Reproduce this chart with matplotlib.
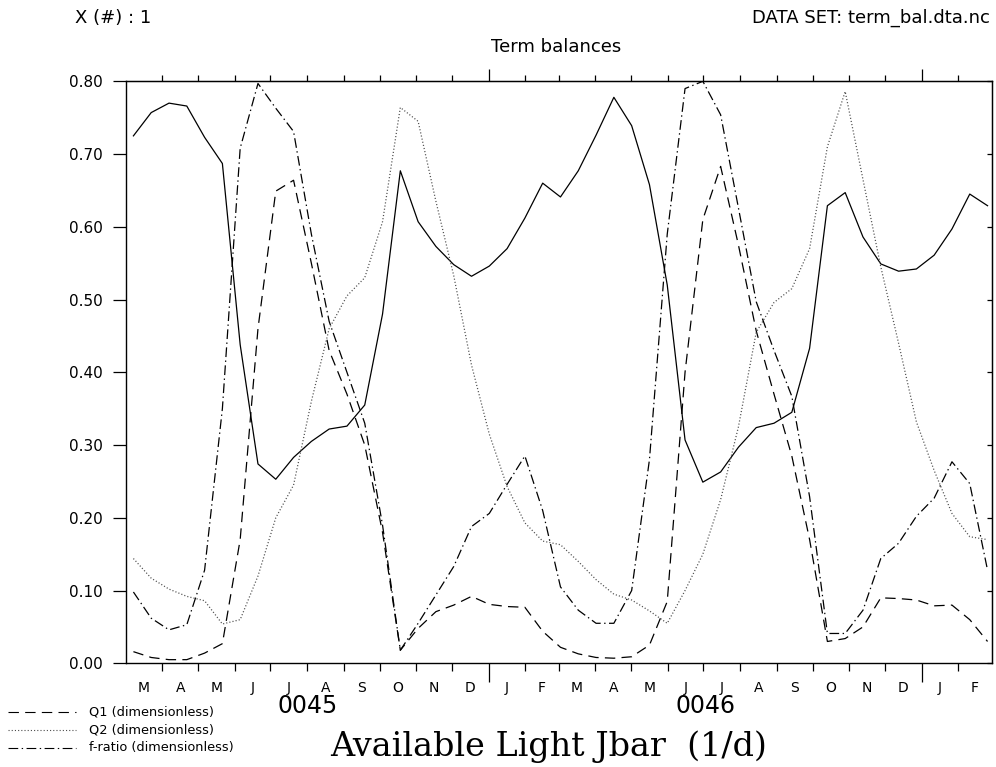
import numpy as np
import matplotlib
matplotlib.use("Agg")
import matplotlib.pyplot as plt
from matplotlib.lines import Line2D

plt.rcParams["lines.scale_dashes"] = False
plt.rcParams["font.family"] = ["DejaVu Sans"]

# ---- data: semi-monthly samples, days since 1 Mar 0045 ----
n_samples = 49
start_day = 6.5
step_days = 15.0
days = start_day + step_days * np.arange(n_samples)

jbar = [0.725, 0.757, 0.770, 0.766, 0.723, 0.687, 0.438, 0.274, 0.253, 0.283,
        0.305, 0.322, 0.326, 0.355, 0.480, 0.677, 0.607, 0.573, 0.548, 0.532,
        0.546, 0.570, 0.612, 0.660, 0.641, 0.677, 0.726, 0.778, 0.739, 0.658,
        0.520, 0.307, 0.249, 0.263, 0.297, 0.324, 0.330, 0.345, 0.433, 0.629,
        0.647, 0.586, 0.549, 0.539, 0.542, 0.561, 0.597, 0.645, 0.629]

q1 = [0.016, 0.008, 0.005, 0.005, 0.014, 0.027, 0.170, 0.460, 0.649, 0.664,
      0.550, 0.430, 0.370, 0.300, 0.180, 0.018, 0.048, 0.071, 0.080, 0.092,
      0.081, 0.078, 0.077, 0.044, 0.022, 0.013, 0.008, 0.007, 0.009, 0.025,
      0.085, 0.400, 0.610, 0.683, 0.575, 0.457, 0.370, 0.285, 0.170, 0.030,
      0.034, 0.050, 0.090, 0.089, 0.087, 0.079, 0.080, 0.060, 0.030]

q2 = [0.144, 0.117, 0.102, 0.092, 0.086, 0.054, 0.060, 0.120, 0.200, 0.245,
      0.360, 0.460, 0.505, 0.530, 0.607, 0.764, 0.745, 0.635, 0.533, 0.410,
      0.315, 0.243, 0.193, 0.168, 0.163, 0.140, 0.115, 0.095, 0.087, 0.072,
      0.055, 0.100, 0.150, 0.225, 0.325, 0.455, 0.496, 0.515, 0.570, 0.710,
      0.786, 0.665, 0.545, 0.440, 0.332, 0.265, 0.206, 0.174, 0.170]

fratio = [0.098, 0.062, 0.046, 0.053, 0.128, 0.350, 0.708, 0.797, 0.763, 0.731,
          0.590, 0.470, 0.400, 0.330, 0.190, 0.018, 0.055, 0.094, 0.133, 0.188,
          0.206, 0.246, 0.285, 0.210, 0.105, 0.073, 0.055, 0.055, 0.100, 0.280,
          0.590, 0.790, 0.800, 0.754, 0.626, 0.497, 0.430, 0.367, 0.229, 0.041,
          0.041, 0.073, 0.144, 0.165, 0.202, 0.227, 0.277, 0.247, 0.128]

# calendar: Mar 0045 .. Feb 0047 (365-day years)
month_letters = ["M", "A", "M", "J", "J", "A", "S", "O", "N", "D", "J", "F"] * 2
month_lengths = [31, 30, 31, 30, 31, 31, 30, 31, 30, 31, 31, 28] * 2
year_names = ["0045", "0046"]
ytick_vals = [0.0, 0.1, 0.2, 0.3, 0.4, 0.5, 0.6, 0.7, 0.8]

month_edges = np.concatenate([[0], np.cumsum(month_lengths)])
month_mids = 0.5 * (month_edges[:-1] + month_edges[1:])
jan_edges = month_edges[[10, 22]]           # 1 Jan 0046, 1 Jan 0047
other_edges = np.setdiff1d(month_edges[1:-1], jan_edges)

W, H = 996, 767
fig = plt.figure(figsize=(W / 100, H / 100), dpi=100)


def fx(px):
    return px / W


def fy(py):
    return 1 - py / H


left, right, top, bottom = 125.7, 991.7, 81.3, 663.3
ax = fig.add_axes([fx(left), fy(bottom), fx(right - left), (bottom - top) / H])

lw = 0.9
ax.plot(days, jbar, color="black", lw=lw, linestyle="-")
ax.plot(days, q1, color="black", lw=lw, linestyle=(0, (7.5, 4.5)))
ax.plot(days, q2, color="0.3", lw=lw, linestyle=(0, (0.8, 1.5)))
ax.plot(days, fratio, color="black", lw=lw, linestyle=(0, (7, 2.5, 1, 2.5)))

ax.set_xlim(month_edges[0], month_edges[-1])
ax.set_ylim(0, 0.8)

for sp in ax.spines.values():
    sp.set_linewidth(1.0)

# left axis: outward ticks with labels
ax.set_yticks(ytick_vals)
ax.set_yticklabels([f"{v:.2f}" for v in ytick_vals], fontsize=11)
ax.tick_params(axis="y", which="major", direction="out", length=9.4,
               width=0.9, pad=7, left=True, right=False)

# right axis: short inward ticks
sec_y = ax.secondary_yaxis("right")
sec_y.set_yticks(ytick_vals)
sec_y.tick_params(direction="in", length=3.6, width=0.9, labelright=False)

# bottom axis: month ticks outward, longer at year boundaries
ax.set_xticks(jan_edges)
ax.set_xticks(other_edges, minor=True)
ax.tick_params(axis="x", which="major", direction="out", length=14,
               width=0.9, labelbottom=False)
ax.tick_params(axis="x", which="minor", direction="out", length=5.5,
               width=0.9, labelbottom=False)

# top axis: same month ticks pointing up
sec_x = ax.secondary_xaxis("top")
sec_x.set_xticks(jan_edges)
sec_x.set_xticks(other_edges, minor=True)
sec_x.tick_params(which="major", direction="out", length=8.6, width=0.9,
                  labeltop=False)
sec_x.tick_params(which="minor", direction="out", length=4.3, width=0.9,
                  labeltop=False)

# month letters centred in each month
for xm, lab in zip(month_mids, month_letters):
    ax.annotate(lab, xy=(xm, 0), xycoords=("data", "axes fraction"),
                xytext=(0, -18), textcoords="offset points",
                ha="center", va="center", fontsize=10)

# year labels centred on the visible part of each year
year_spans = [(month_edges[0], jan_edges[0]), (jan_edges[0], jan_edges[1])]
for (a, b), yname in zip(year_spans, year_names):
    ax.annotate(yname, xy=(0.5 * (a + b), 0), xycoords=("data", "axes fraction"),
                xytext=(0, -31), textcoords="offset points",
                ha="center", va="center", fontsize=17)

# header texts
fig.text(fx(75), fy(18), "X (#) : 1", fontsize=13, ha="left", va="center")
fig.text(fx(990), fy(18), "DATA SET: term_bal.dta.nc", fontsize=13,
         ha="right", va="center")
fig.text(fx(556), fy(47), "Term balances", fontsize=13, ha="center", va="center")

# axis title for the main variable
fig.text(fx(549), fy(747), "Available Light Jbar  (1/d)", fontsize=24,
         family="DejaVu Serif", ha="center", va="center")

# key for the other variables
key = [
    ((0, (7.5, 4.5)), "black", "Q1 (dimensionless)"),
    ((0, (0.8, 1.5)), "0.3", "Q2 (dimensionless)"),
    ((0, (7, 2.5, 1, 2.5)), "black", "f-ratio (dimensionless)"),
]
for k, (ls, col, txt) in enumerate(key):
    yy = 712 + 18 * k
    fig.add_artist(Line2D([fx(8), fx(76)], [fy(yy), fy(yy)], color=col,
                          lw=0.8, linestyle=ls, transform=fig.transFigure))
    fig.text(fx(89), fy(yy), txt, fontsize=9.3, ha="left", va="center")

fig.savefig("out.png", dpi=100)
